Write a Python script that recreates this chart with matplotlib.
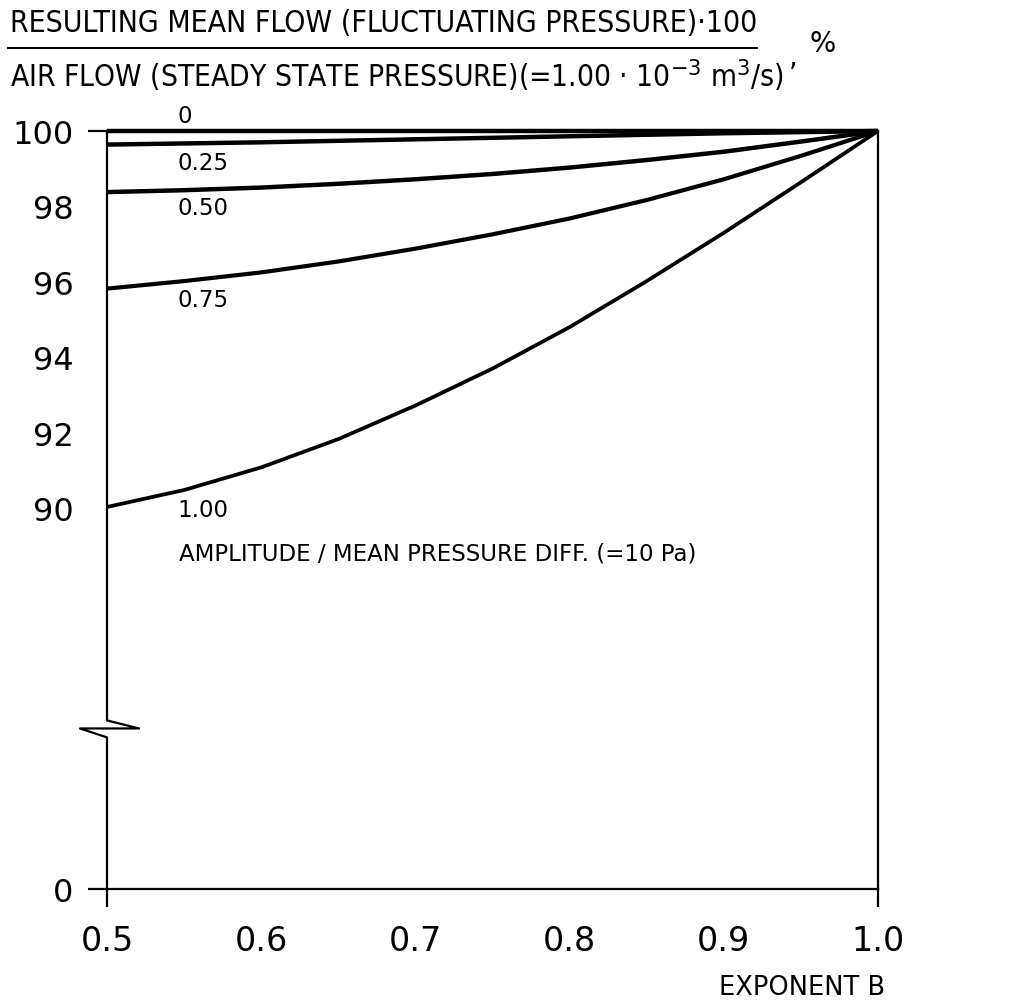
import numpy as np
import matplotlib
matplotlib.use("Agg")
import matplotlib.pyplot as plt
from matplotlib.lines import Line2D

# exponent B on the x axis
exponent = [0.5, 0.55, 0.6, 0.65, 0.7, 0.75, 0.8, 0.85, 0.9, 0.95, 1.0]

# resulting mean flow in % for each amplitude / mean pressure ratio
amp_labels = ["0", "0.25", "0.50", "0.75", "1.00"]
flow_000 = [100.0, 100.0, 100.0, 100.0, 100.0, 100.0, 100.0, 100.0, 100.0, 100.0, 100.0]
flow_025 = [99.64, 99.67, 99.70, 99.74, 99.78, 99.82, 99.86, 99.90, 99.94, 99.97, 100.0]
flow_050 = [98.38, 98.43, 98.50, 98.60, 98.72, 98.86, 99.03, 99.23, 99.45, 99.72, 100.0]
flow_075 = [95.82, 96.02, 96.25, 96.54, 96.88, 97.26, 97.68, 98.17, 98.72, 99.34, 100.0]
flow_100 = [90.03, 90.48, 91.08, 91.83, 92.72, 93.70, 94.80, 96.02, 97.30, 98.64, 100.0]
flows = [flow_000, flow_025, flow_050, flow_075, flow_100]
label_y = [100.4, 99.17, 97.96, 95.53, 89.97]
line_w = [3.2, 3.2, 3.2, 3.0, 2.7]

y_ticks = [0, 90, 92, 94, 96, 98, 100]
x_ticks = [0.5, 0.6, 0.7, 0.8, 0.9, 1.0]


# broken y axis: everything below 80 is squeezed into a tiny band
def fwd(y):
    y = np.asarray(y, dtype=float)
    return np.where(y >= 80, y, 79.9 + y * 0.1 / 80)


def inv(v):
    v = np.asarray(v, dtype=float)
    return np.where(v >= 80, v, (v - 79.9) * 800)


fig = plt.figure(figsize=(10.2, 10.04), dpi=100)
ax = fig.add_axes([107 / 1020, 1 - 890 / 1004, 771 / 1020, 758 / 1004])
ax.set_yscale("function", functions=(fwd, inv))
ax.set_xlim(0.5, 1.0)
ax.set_ylim(0, 100)

for f, lw in zip(flows, line_w):
    ax.plot(exponent, f, color="black", lw=lw, solid_capstyle="butt",
            solid_joinstyle="round", clip_on=False)

for lab, ly in zip(amp_labels, label_y):
    ax.text(0.5454, ly, lab, fontsize=16.5, ha="left", va="center")
ax.text(0.5465, 88.8, "AMPLITUDE / MEAN PRESSURE DIFF. (=10 Pa)", fontsize=16.5,
        ha="left", va="center")

# frame
for s in ["top", "right", "bottom"]:
    ax.spines[s].set_linewidth(1.6)
ax.spines["left"].set_visible(False)
ax.plot([0, 0, 0.0415, -0.035, 0, 0], [1, 0.2224, 0.2118, 0.2118, 0.200, 0],
        transform=ax.transAxes, color="black", lw=1.6, clip_on=False)

ax.set_yticks(y_ticks)
ax.set_yticklabels([str(t) for t in y_ticks])
ax.set_xticks(x_ticks)
ax.set_xticklabels([f"{t:.1f}" for t in x_ticks])
ax.tick_params(axis="y", direction="out", length=14, width=1.6, pad=10, labelsize=23)
ax.tick_params(axis="x", direction="out", length=13, width=1.6, pad=12, labelsize=24)
for i, t in enumerate(ax.yaxis.get_major_ticks()):
    if y_ticks[i] not in (0, 100):
        t.tick1line.set_visible(False)
for i, t in enumerate(ax.xaxis.get_major_ticks()):
    if x_ticks[i] not in (0.5, 1.0):
        t.tick1line.set_visible(False)

fig.text(885 / 1020, 1 - 988 / 1004, "EXPONENT B", fontsize=18.5, ha="right", va="center")

# y axis title as a fraction
num = fig.text(10 / 1020, 1 - 24 / 1004, "RESULTING MEAN FLOW (FLUCTUATING PRESSURE)·100",
               fontsize=22, fontstretch="condensed", ha="left", va="center")
den = fig.text(10 / 1020, 1 - 76 / 1004,
               "AIR FLOW (STEADY STATE PRESSURE)(=1.00 · 10$^{-3}$ m$^3$/s)",
               fontsize=22, fontstretch="condensed", ha="left", va="center")
# shrink the title lines to the widths they have in the original
r = fig.canvas.get_renderer()
for t, target in [(num, 748), (den, 772)]:
    w = t.get_window_extent(r).width
    if w > target:
        t.set_fontsize(22 * target / w)
fig.add_artist(Line2D([8 / 1020, 757 / 1020], [1 - 49 / 1004, 1 - 49 / 1004],
                      transform=fig.transFigure, color="black", lw=1.4))
fig.text(789 / 1020, 1 - 58 / 1004, ",", fontsize=20, ha="left", va="center")
fig.text(810 / 1020, 1 - 44 / 1004, "%", fontsize=20, ha="left", va="center")

fig.savefig("out.png", dpi=100, facecolor="white")
